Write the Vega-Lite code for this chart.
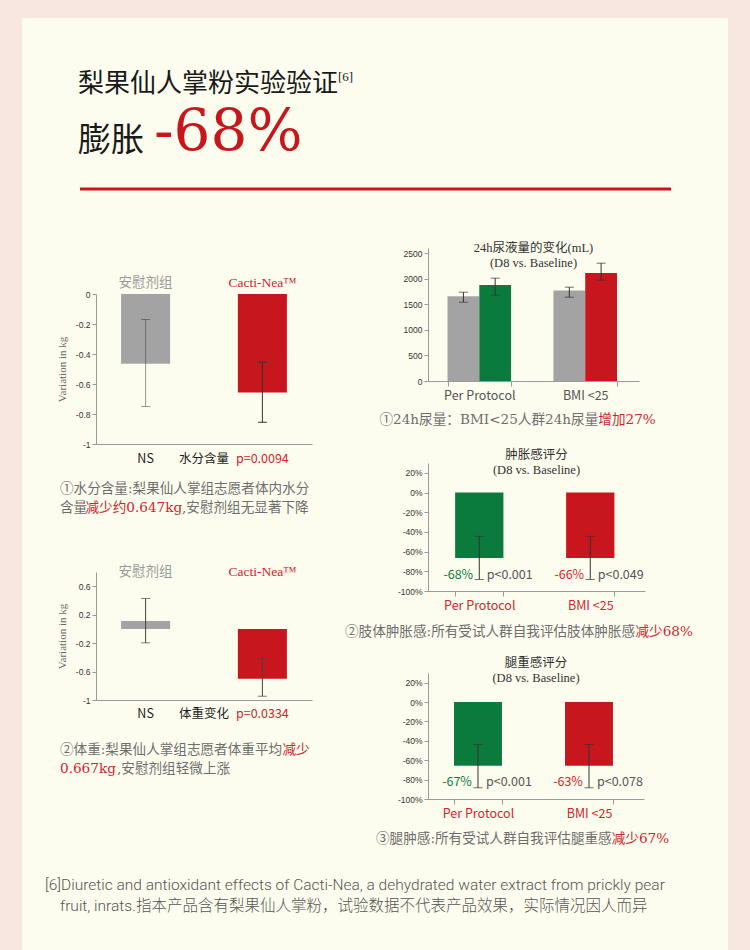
{
  "$schema": "https://vega.github.io/schema/vega-lite/v6.json",
  "background": "#f8e6e1",
  "padding": {"left": 22, "top": 0, "right": 0, "bottom": 0},
  "bounds": "flush",
  "spacing": 332,
  "hconcat": [
    {
      "spacing": 128,
      "bounds": "flush",
      "vconcat": [
        {
          "width": 250, "height": 166,
          "data": {"values": [{"t": "梨果仙人掌粉实验验证"}]},
          "layer": [
            {"data": {"values": [{"t": "panel"}]}, "mark": {"type": "rect", "color": "#fdfdef"}, "encoding": {"x": {"value": -74}, "x2": {"value": 632}, "y": {"value": 18}, "y2": {"value": 950}}},
            {"mark": {"type": "text", "x": -18, "y": 83.7, "align": "left", "baseline": "middle", "font": "Liberation Serif, Noto Sans CJK SC", "fontSize": 26, "color": "#1a1a1a"}, "encoding": {"text": {"field": "t"}}},
            {"data": {"values": [{"t": "[6]"}]}, "mark": {"type": "text", "x": 242, "y": 77, "align": "left", "baseline": "middle", "font": "Liberation Serif", "fontSize": 13, "color": "#1a1a1a"}, "encoding": {"text": {"field": "t"}}},
            {"data": {"values": [{"t": "膨胀"}]}, "mark": {"type": "text", "x": -18, "y": 140.6, "align": "left", "baseline": "middle", "font": "Noto Sans CJK SC", "fontSize": 33, "color": "#1a1a1a"}, "encoding": {"text": {"field": "t"}}},
            {"data": {"values": [{"t": "-68%"}]}, "mark": {"type": "text", "x": 58, "y": 150, "align": "left", "baseline": "alphabetic", "font": "DejaVu Serif", "fontSize": 58, "color": "#c8161d"}, "encoding": {"text": {"field": "t"}}}
          ]
        },
        {
          "width": 216, "height": 150,
          "data": {"values": [
            {"group": "安慰剂组", "value": -0.465, "low": -0.75, "high": -0.17},
            {"group": "Cacti-Nea™", "value": -0.657, "low": -0.855, "high": -0.455}
          ]},
          "layer": [
            {
              "mark": {"type": "bar"},
              "encoding": {
                "x": {"field": "group", "type": "nominal", "sort": null,
                  "scale": {"domain": ["安慰剂组", "水分含量", "Cacti-Nea™"], "paddingInner": 0.16, "paddingOuter": 0.43},
                  "axis": {"orient": "bottom", "title": null, "ticks": false, "labelAngle": 0, "labelPadding": 8.5, "labelFont": "Noto Sans CJK SC", "labelFontSize": 12.5,
                    "labelExpr": "datum.value == '安慰剂组' ? 'NS' : datum.value == 'Cacti-Nea™' ? 'p=0.0094' : datum.value",
                    "labelColor": {"condition": {"test": "datum.value == 'Cacti-Nea™'", "value": "#d3242c"}, "value": "#1e1e1e"}}},
                "y": {"field": "value", "type": "quantitative", "scale": {"domain": [-1, 0]},
                  "axis": {"values": [0, -0.2, -0.4, -0.6, -0.8, -1], "tickCount": 12, "labelOverlap": false, "labelExpr": "'' + datum.value", "title": "Variation in kg", "titleFont": "Liberation Serif", "titleFontSize": 11, "titleFontWeight": "normal", "titleColor": "#666666", "titleX": -33.5, "titleBaseline": "middle"}},
                "color": {"condition": {"test": "datum.group == '安慰剂组'", "value": "#a3a3a3"}, "value": "#c8161e"}
              }
            },
            {
              "mark": {"type": "rule", "color": "#333333", "strokeWidth": 1},
              "encoding": {
                "x": {"field": "group", "type": "nominal", "sort": null},
                "y": {"field": "low", "type": "quantitative"},
                "y2": {"field": "high"},
                "opacity": {"condition": {"test": "datum.group == '安慰剂组'", "value": 0.5}, "value": 1}
              }
            },
            {
              "mark": {"type": "tick", "size": 9, "thickness": 1, "color": "#333333"},
              "encoding": {
                "x": {"field": "group", "type": "nominal", "sort": null},
                "y": {"field": "low", "type": "quantitative"},
                "opacity": {"condition": {"test": "datum.group == '安慰剂组'", "value": 0.5}, "value": 1}
              }
            },
            {
              "mark": {"type": "tick", "size": 9, "thickness": 1, "color": "#333333"},
              "encoding": {
                "x": {"field": "group", "type": "nominal", "sort": null},
                "y": {"field": "high", "type": "quantitative"},
                "opacity": {"condition": {"test": "datum.group == '安慰剂组'", "value": 0.5}, "value": 1}
              }
            },
            {
              "mark": {"type": "text", "baseline": "bottom", "dy": -4.25, "font": "Liberation Serif, Noto Sans CJK SC", "fontSize": 13.5},
              "encoding": {
                "x": {"field": "group", "type": "nominal", "sort": null},
                "y": {"datum": 0},
                "text": {"field": "group"},
                "color": {"condition": {"test": "datum.group == '安慰剂组'", "value": "#9a9a9a"}, "value": "#d3242c"}
              }
            },
            {"data": {"values": [{"t": "①水分含量:梨果仙人掌组志愿者体内水分"}]}, "mark": {"type": "text", "x": -36, "y": 195, "align": "left", "baseline": "middle", "font": "DejaVu Serif, Noto Sans CJK SC", "fontSize": 13.6, "color": "#6e6e6e"}, "encoding": {"text": {"field": "t"}}},
            {"data": {"values": [{"t": "含量"}]}, "mark": {"type": "text", "x": -36, "y": 214, "align": "left", "baseline": "middle", "font": "DejaVu Serif, Noto Sans CJK SC", "fontSize": 13.6, "color": "#6e6e6e"}, "encoding": {"text": {"field": "t"}}},
            {"data": {"values": [{"t": "减少约0.647kg"}]}, "mark": {"type": "text", "x": -10.5, "y": 214, "align": "left", "baseline": "middle", "font": "DejaVu Serif, Noto Sans CJK SC", "fontSize": 13.6, "color": "#d3242c"}, "encoding": {"text": {"field": "t"}}},
            {"data": {"values": [{"t": ",安慰剂组无显著下降"}]}, "mark": {"type": "text", "x": 86, "y": 214, "align": "left", "baseline": "middle", "font": "DejaVu Serif, Noto Sans CJK SC", "fontSize": 13.6, "color": "#6e6e6e"}, "encoding": {"text": {"field": "t"}}}
          ]
        },
        {
          "width": 216, "height": 128,
          "data": {"values": [
            {"group": "安慰剂组", "value": 0.11, "low": -0.196, "high": 0.427},
            {"group": "Cacti-Nea™", "value": -0.7, "low": -0.947, "high": -0.413}
          ]},
          "layer": [
            {
              "mark": {"type": "bar"},
              "encoding": {
                "x": {"field": "group", "type": "nominal", "sort": null,
                  "scale": {"domain": ["安慰剂组", "体重变化", "Cacti-Nea™"], "paddingInner": 0.16, "paddingOuter": 0.43},
                  "axis": {"orient": "bottom", "title": null, "ticks": false, "labelAngle": 0, "labelPadding": 7, "labelFont": "Noto Sans CJK SC", "labelFontSize": 12.5,
                    "labelExpr": "datum.value == '安慰剂组' ? 'NS' : datum.value == 'Cacti-Nea™' ? 'p=0.0334' : datum.value",
                    "labelColor": {"condition": {"test": "datum.value == 'Cacti-Nea™'", "value": "#d3242c"}, "value": "#1e1e1e"}}},
                "y": {"field": "value", "type": "quantitative", "scale": {"domain": [-1, 0.7]},
                  "axis": {"values": [0.6, 0.2, -0.2, -0.6, -1], "tickCount": 12, "labelOverlap": false, "labelExpr": "'' + datum.value", "title": "Variation in kg", "titleFont": "Liberation Serif", "titleFontSize": 11, "titleFontWeight": "normal", "titleColor": "#666666", "titleX": -33.5, "titleBaseline": "middle"}},
                "color": {"condition": {"test": "datum.group == '安慰剂组'", "value": "#a3a3a3"}, "value": "#c8161e"}
              }
            },
            {
              "mark": {"type": "rule", "color": "#444444", "strokeWidth": 1},
              "encoding": {
                "x": {"field": "group", "type": "nominal", "sort": null},
                "y": {"field": "low", "type": "quantitative"},
                "y2": {"field": "high"}
              }
            },
            {
              "mark": {"type": "tick", "size": 9, "thickness": 1, "color": "#444444"},
              "encoding": {
                "x": {"field": "group", "type": "nominal", "sort": null},
                "y": {"field": "low", "type": "quantitative"}
              }
            },
            {
              "mark": {"type": "tick", "size": 9, "thickness": 1, "color": "#444444"},
              "encoding": {
                "x": {"field": "group", "type": "nominal", "sort": null},
                "y": {"field": "high", "type": "quantitative"}
              }
            },
            {
              "mark": {"type": "text", "baseline": "bottom", "dy": -0.5, "font": "Liberation Serif, Noto Sans CJK SC", "fontSize": 13.5},
              "encoding": {
                "x": {"field": "group", "type": "nominal", "sort": null},
                "y": {"datum": 0.7},
                "text": {"field": "group"},
                "color": {"condition": {"test": "datum.group == '安慰剂组'", "value": "#9a9a9a"}, "value": "#d3242c"}
              }
            },
            {"data": {"values": [{"t": "②体重:梨果仙人掌组志愿者体重平均"}]}, "mark": {"type": "text", "x": -36, "y": 178.3, "align": "left", "baseline": "middle", "font": "DejaVu Serif, Noto Sans CJK SC", "fontSize": 13.6, "color": "#6e6e6e"}, "encoding": {"text": {"field": "t"}}},
            {"data": {"values": [{"t": "减少"}]}, "mark": {"type": "text", "x": 186.5, "y": 178.3, "align": "left", "baseline": "middle", "font": "DejaVu Serif, Noto Sans CJK SC", "fontSize": 13.6, "color": "#d3242c"}, "encoding": {"text": {"field": "t"}}},
            {"data": {"values": [{"t": "0.667kg"}]}, "mark": {"type": "text", "x": -36, "y": 197.3, "align": "left", "baseline": "middle", "font": "DejaVu Serif, Noto Sans CJK SC", "fontSize": 13.6, "color": "#d3242c"}, "encoding": {"text": {"field": "t"}}},
            {"data": {"values": [{"t": ",安慰剂组轻微上涨"}]}, "mark": {"type": "text", "x": 21, "y": 197.3, "align": "left", "baseline": "middle", "font": "DejaVu Serif, Noto Sans CJK SC", "fontSize": 13.6, "color": "#6e6e6e"}, "encoding": {"text": {"field": "t"}}}
          ]
        }
      ]
    },
    {
      "spacing": 82,
      "bounds": "flush",
      "vconcat": [
        {
          "width": 211, "height": 166,
          "data": {"values": [{"t": "rule"}]},
          "mark": {"type": "rule", "color": "#c8161d", "strokeWidth": 3},
          "encoding": {"x": {"value": -348}, "x2": {"value": 243}, "y": {"value": 189}}
        },
        {
          "width": 211, "height": 133,
          "title": {"text": ["24h尿液量的变化(mL)", "(D8 vs. Baseline)"], "offset": -21, "font": "Liberation Serif, Noto Sans CJK SC", "fontSize": 12.5, "fontWeight": "normal", "color": "#333333", "lineHeight": 15},
          "data": {"values": [
            {"group": "Per Protocol", "series": "安慰剂组", "value": 1657, "low": 1540, "high": 1736},
            {"group": "Per Protocol", "series": "Cacti-Nea™", "value": 1879, "low": 1677, "high": 2010},
            {"group": "BMI <25", "series": "安慰剂组", "value": 1767, "low": 1638, "high": 1834},
            {"group": "BMI <25", "series": "Cacti-Nea™", "value": 2113, "low": 1970, "high": 2303}
          ]},
          "layer": [
            {
              "mark": {"type": "bar"},
              "encoding": {
                "x": {"field": "group", "type": "nominal", "sort": null,
                  "scale": {"domain": ["Per Protocol", "BMI <25"], "paddingInner": 0.4, "paddingOuter": 0.196, "align": 0.47},
                  "axis": {"title": null, "labelAngle": 0, "tickBand": "extent", "tickSize": 5, "labelPadding": 3.5, "labelFont": "Noto Sans CJK SC", "labelFontSize": 12.5, "labelColor": "#555555"}},
                "xOffset": {"field": "series", "type": "nominal", "sort": null, "scale": {"domain": ["安慰剂组", "Cacti-Nea™"], "paddingInner": 0, "paddingOuter": 0}},
                "y": {"field": "value", "type": "quantitative", "scale": {"domain": [0, 2600]},
                  "axis": {"values": [0, 500, 1000, 1500, 2000, 2500], "tickCount": 12, "labelOverlap": false, "format": "d", "title": null}},
                "color": {"condition": [{"test": "datum.series == '安慰剂组'", "value": "#a3a3a3"}, {"test": "datum.group == 'Per Protocol'", "value": "#0a7b3d"}], "value": "#c8161e"}
              }
            },
            {
              "mark": {"type": "rule", "color": "#333333", "strokeWidth": 1},
              "encoding": {
                "x": {"field": "group", "type": "nominal", "sort": null},
                "xOffset": {"field": "series", "type": "nominal", "sort": null},
                "y": {"field": "low", "type": "quantitative"},
                "y2": {"field": "high"}
              }
            },
            {
              "mark": {"type": "tick", "size": 9, "thickness": 1, "color": "#333333"},
              "encoding": {
                "x": {"field": "group", "type": "nominal", "sort": null},
                "xOffset": {"field": "series", "type": "nominal", "sort": null},
                "y": {"field": "low", "type": "quantitative"}
              }
            },
            {
              "mark": {"type": "tick", "size": 9, "thickness": 1, "color": "#333333"},
              "encoding": {
                "x": {"field": "group", "type": "nominal", "sort": null},
                "xOffset": {"field": "series", "type": "nominal", "sort": null},
                "y": {"field": "high", "type": "quantitative"}
              }
            },
            {"data": {"values": [{"t": "①24h尿量：BMI<25人群24h尿量"}]}, "mark": {"type": "text", "x": 170.3, "y": 172, "align": "right", "baseline": "middle", "font": "DejaVu Serif, Noto Sans CJK SC", "fontSize": 13.6, "color": "#6e6e6e"}, "encoding": {"text": {"field": "t"}}},
            {"data": {"values": [{"t": "增加27%"}]}, "mark": {"type": "text", "x": 170.3, "y": 172, "align": "left", "baseline": "middle", "font": "DejaVu Serif, Noto Sans CJK SC", "fontSize": 13.6, "color": "#d3242c"}, "encoding": {"text": {"field": "t"}}}
          ]
        },
        {
          "width": 217, "height": 128,
          "title": {"text": ["肿胀感评分", "(D8 vs. Baseline)"], "offset": -13.5, "font": "Liberation Serif, Noto Sans CJK SC", "fontSize": 12.5, "fontWeight": "normal", "color": "#333333", "lineHeight": 15},
          "data": {"values": [
            {"group": "Per Protocol", "value": -66.5, "low": -88.3, "high": -44.5, "change": "-68%", "p": "p<0.001"},
            {"group": "BMI <25", "value": -66.5, "low": -88.3, "high": -44.5, "change": "-66%", "p": "p<0.049"}
          ]},
          "layer": [
            {
              "mark": {"type": "bar"},
              "encoding": {
                "x": {"field": "group", "type": "nominal", "sort": null,
                  "scale": {"domain": ["Per Protocol", "BMI <25"], "paddingInner": 0.565, "paddingOuter": 0.26, "align": 0.47},
                  "axis": {"title": null, "labelAngle": 0, "tickBand": "extent", "tickSize": 5, "labelPadding": 3, "labelFont": "Noto Sans CJK SC", "labelFontSize": 12.5, "labelColor": "#d3242c"}},
                "y": {"field": "value", "type": "quantitative", "scale": {"domain": [-100, 22]},
                  "axis": {"values": [20, 0, -20, -40, -60, -80, -100], "tickCount": 12, "labelOverlap": false, "labelExpr": "datum.value + '%'", "title": null}},
                "color": {"condition": {"test": "datum.group == 'Per Protocol'", "value": "#0a7b3d"}, "value": "#c8161e"}
              }
            },
            {
              "mark": {"type": "rule", "color": "#333333", "strokeWidth": 1},
              "encoding": {
                "x": {"field": "group", "type": "nominal", "sort": null},
                "y": {"field": "low", "type": "quantitative"},
                "y2": {"field": "high"}
              }
            },
            {
              "mark": {"type": "tick", "size": 9, "thickness": 1, "color": "#333333"},
              "encoding": {
                "x": {"field": "group", "type": "nominal", "sort": null},
                "y": {"field": "low", "type": "quantitative"}
              }
            },
            {
              "mark": {"type": "tick", "size": 9, "thickness": 1, "color": "#333333"},
              "encoding": {
                "x": {"field": "group", "type": "nominal", "sort": null},
                "y": {"field": "high", "type": "quantitative"}
              }
            },
            {
              "mark": {"type": "text", "dx": -21, "align": "center", "baseline": "middle", "font": "Noto Sans CJK SC", "fontSize": 12.5},
              "encoding": {
                "x": {"field": "group", "type": "nominal", "sort": null},
                "y": {"datum": -84},
                "text": {"field": "change"},
                "color": {"condition": {"test": "datum.group == 'Per Protocol'", "value": "#0a7b3d"}, "value": "#d3242c"}
              }
            },
            {
              "mark": {"type": "text", "dx": 7.5, "align": "left", "baseline": "middle", "font": "Noto Sans CJK SC", "fontSize": 12.5, "color": "#555555"},
              "encoding": {
                "x": {"field": "group", "type": "nominal", "sort": null},
                "y": {"datum": -84},
                "text": {"field": "p"}
              }
            },
            {"data": {"values": [{"t": "②肢体肿胀感:所有受试人群自我评估肢体肿胀感"}]}, "mark": {"type": "text", "x": -83, "y": 169.3, "align": "left", "baseline": "middle", "font": "DejaVu Serif, Noto Sans CJK SC", "fontSize": 13.6, "color": "#6e6e6e"}, "encoding": {"text": {"field": "t"}}},
            {"data": {"values": [{"t": "减少68%"}]}, "mark": {"type": "text", "x": 207.5, "y": 169.3, "align": "left", "baseline": "middle", "font": "DejaVu Serif, Noto Sans CJK SC", "fontSize": 13.6, "color": "#d3242c"}, "encoding": {"text": {"field": "t"}}}
          ]
        },
        {
          "width": 216, "height": 126,
          "title": {"text": ["腿重感评分", "(D8 vs. Baseline)"], "offset": -11, "font": "Liberation Serif, Noto Sans CJK SC", "fontSize": 12.5, "fontWeight": "normal", "color": "#333333", "lineHeight": 15},
          "data": {"values": [
            {"group": "Per Protocol", "value": -65.8, "low": -88.4, "high": -43.8, "change": "-67%", "p": "p<0.001"},
            {"group": "BMI <25", "value": -65.8, "low": -88.4, "high": -43.8, "change": "-63%", "p": "p<0.078"}
          ]},
          "layer": [
            {
              "mark": {"type": "bar"},
              "encoding": {
                "x": {"field": "group", "type": "nominal", "sort": null,
                  "scale": {"domain": ["Per Protocol", "BMI <25"], "paddingInner": 0.568, "paddingOuter": 0.257, "align": 0.456},
                  "axis": {"title": null, "labelAngle": 0, "tickBand": "extent", "tickSize": 5, "labelPadding": 3, "labelFont": "Noto Sans CJK SC", "labelFontSize": 12.5, "labelColor": "#d3242c"}},
                "y": {"field": "value", "type": "quantitative", "scale": {"domain": [-100, 22]},
                  "axis": {"values": [20, 0, -20, -40, -60, -80, -100], "tickCount": 12, "labelOverlap": false, "labelExpr": "datum.value + '%'", "title": null}},
                "color": {"condition": {"test": "datum.group == 'Per Protocol'", "value": "#0a7b3d"}, "value": "#c8161e"}
              }
            },
            {
              "mark": {"type": "rule", "color": "#333333", "strokeWidth": 1},
              "encoding": {
                "x": {"field": "group", "type": "nominal", "sort": null},
                "y": {"field": "low", "type": "quantitative"},
                "y2": {"field": "high"}
              }
            },
            {
              "mark": {"type": "tick", "size": 9, "thickness": 1, "color": "#333333"},
              "encoding": {
                "x": {"field": "group", "type": "nominal", "sort": null},
                "y": {"field": "low", "type": "quantitative"}
              }
            },
            {
              "mark": {"type": "tick", "size": 9, "thickness": 1, "color": "#333333"},
              "encoding": {
                "x": {"field": "group", "type": "nominal", "sort": null},
                "y": {"field": "high", "type": "quantitative"}
              }
            },
            {
              "mark": {"type": "text", "dx": -21, "align": "center", "baseline": "middle", "font": "Noto Sans CJK SC", "fontSize": 12.5},
              "encoding": {
                "x": {"field": "group", "type": "nominal", "sort": null},
                "y": {"datum": -82.5},
                "text": {"field": "change"},
                "color": {"condition": {"test": "datum.group == 'Per Protocol'", "value": "#0a7b3d"}, "value": "#d3242c"}
              }
            },
            {
              "mark": {"type": "text", "dx": 8, "align": "left", "baseline": "middle", "font": "Noto Sans CJK SC", "fontSize": 12.5, "color": "#555555"},
              "encoding": {
                "x": {"field": "group", "type": "nominal", "sort": null},
                "y": {"datum": -82.5},
                "text": {"field": "p"}
              }
            },
            {"data": {"values": [{"t": "③腿肿感:所有受试人群自我评估腿重感"}]}, "mark": {"type": "text", "x": 183.7, "y": 166, "align": "right", "baseline": "middle", "font": "DejaVu Serif, Noto Sans CJK SC", "fontSize": 13.6, "color": "#6e6e6e"}, "encoding": {"text": {"field": "t"}}},
            {"data": {"values": [{"t": "减少67%"}]}, "mark": {"type": "text", "x": 183.7, "y": 166, "align": "left", "baseline": "middle", "font": "DejaVu Serif, Noto Sans CJK SC", "fontSize": 13.6, "color": "#d3242c"}, "encoding": {"text": {"field": "t"}}}
          ]
        },
        {
          "width": 322, "height": 69,
          "data": {"values": [{"t": "[6]Diuretic and antioxidant effects of Cacti-Nea, a dehydrated water extract from prickly pear"}]},
          "layer": [
            {"mark": {"type": "text", "x": -383, "y": 4, "align": "left", "baseline": "middle", "font": "Roboto, Noto Sans CJK SC", "fontSize": 15.5, "fontWeight": 300, "color": "#555555"}, "encoding": {"text": {"field": "t"}}},
            {"data": {"values": [{"t": "fruit, inrats.指本产品含有梨果仙人掌粉，试验数据不代表产品效果，实际情况因人而异"}]}, "mark": {"type": "text", "x": -368, "y": 25, "align": "left", "baseline": "middle", "font": "Roboto, Noto Sans CJK SC", "fontSize": 15.5, "fontWeight": 300, "color": "#555555"}, "encoding": {"text": {"field": "t"}}}
          ]
        }
      ]
    }
  ],
  "config": {
    "view": {"stroke": null},
    "axis": {"grid": false, "labelOverlap": false, "labelBound": false, "domainColor": "#9b9b9b", "tickColor": "#9b9b9b", "tickSize": 4, "labelPadding": 2, "labelFont": "Liberation Sans", "labelFontSize": 8.5, "labelColor": "#333333", "titleFontWeight": "normal"}
  }
}
